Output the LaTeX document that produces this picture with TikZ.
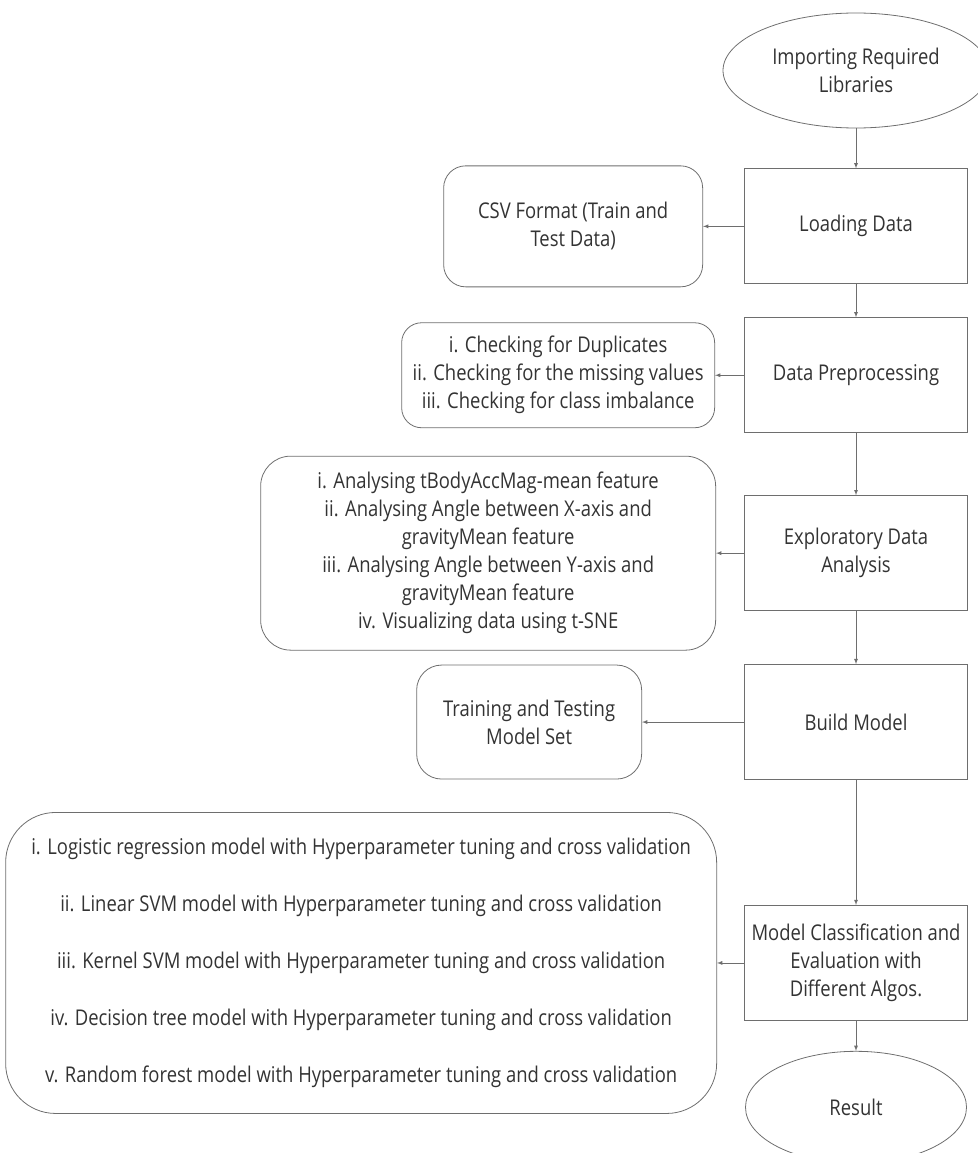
\documentclass[tikz,border=0pt]{standalone}
\usepackage{fontspec}
\setmainfont{Open Sans}[FakeStretch=0.85]
\usetikzlibrary{positioning}
\usetikzlibrary{shapes.geometric}
\usetikzlibrary{arrows.meta}
\definecolor{linegray}{HTML}{6E6E6E}
\definecolor{textgray}{HTML}{333333}

\begin{document}
\begin{tikzpicture}[x=1pt, y=-1pt,
    every node/.style={font=\fontsize{21.7pt}{28pt}\selectfont, text=textgray},
    stepbox/.style={rectangle, draw=linegray, line width=0.9pt, minimum width=223pt, minimum height=115pt, align=center},
    notebox/.style={rectangle, draw=linegray, line width=0.8pt, align=center, inner sep=0pt},
    endbox/.style={ellipse, draw=linegray, line width=0.8pt, align=center, inner sep=0pt},
    flow/.style={-latex, draw=linegray, line width=0.8pt}]
        \useasboundingbox (0,0) rectangle (977,1153);

        \node[endbox, minimum width=266pt, minimum height=115pt] (import) at (856,70.5) {Importing Required\\Libraries};
        \node[stepbox, below = 40pt of import] (load) {Loading Data};
        \node[stepbox, below = 33pt of load] (prep) {Data Preprocessing};
        \node[stepbox, below = 62pt of prep] (eda) {Exploratory Data\\Analysis};
        \node[stepbox, below = 53pt of eda] (build) {Build Model};
        \node[stepbox, below = 125pt of build] (classify) {Model Classification and\\Evaluation with\\Different Algos.};
        \node[endbox, minimum width=221pt, minimum height=112pt, below = 30pt of classify] (result) {Result};

        \node[notebox, rounded corners=22pt, minimum width=259pt, minimum height=121pt, left = 41pt of load] (csv) {CSV Format (Train and\\Test Data)};
        \node[notebox, rounded corners=20pt, minimum width=313pt, minimum height=105pt, left = 29pt of prep] (checks) {i. Checking for Duplicates\\ii. Checking for the missing values\\iii. Checking for class imbalance};
        \node[notebox, rounded corners=30pt, minimum width=455pt, minimum height=194pt, left = 28pt of eda] (analyses) {i. Analysing tBodyAccMag-mean feature\\ii. Analysing Angle between X-axis and\\gravityMean feature\\iii. Analysing Angle between Y-axis and\\gravityMean feature\\iv. Visualizing data using t-SNE};
        \node[notebox, rounded corners=25pt, minimum width=225pt, minimum height=114pt, left = 102pt of build] (split) {Training and Testing\\Model Set};
        \node[notebox, rounded corners=50pt, minimum width=711pt, minimum height=301pt, left = 27pt of classify] (models) {i. Logistic regression model with Hyperparameter tuning and cross validation\\[29pt]ii. Linear SVM model with Hyperparameter tuning and cross validation\\[29pt]iii. Kernel SVM model with Hyperparameter tuning and cross validation\\[29pt]iv. Decision tree model with Hyperparameter tuning and cross validation\\[29pt]v. Random forest model with Hyperparameter tuning and cross validation};

        \draw[flow] (import) -- (load);
        \draw[flow] (load) -- (prep);
        \draw[flow] (prep) -- (eda);
        \draw[flow] (eda) -- (build);
        \draw[flow] (build) -- (classify);
        \draw[flow] (classify) -- (result);

        \draw[flow] (load) -- (csv);
        \draw[flow] (prep) -- (checks);
        \draw[flow] (eda) -- (analyses);
        \draw[flow] (build) -- (split);
        \draw[flow] (classify) -- (models);
    \end{tikzpicture}
\end{document}
